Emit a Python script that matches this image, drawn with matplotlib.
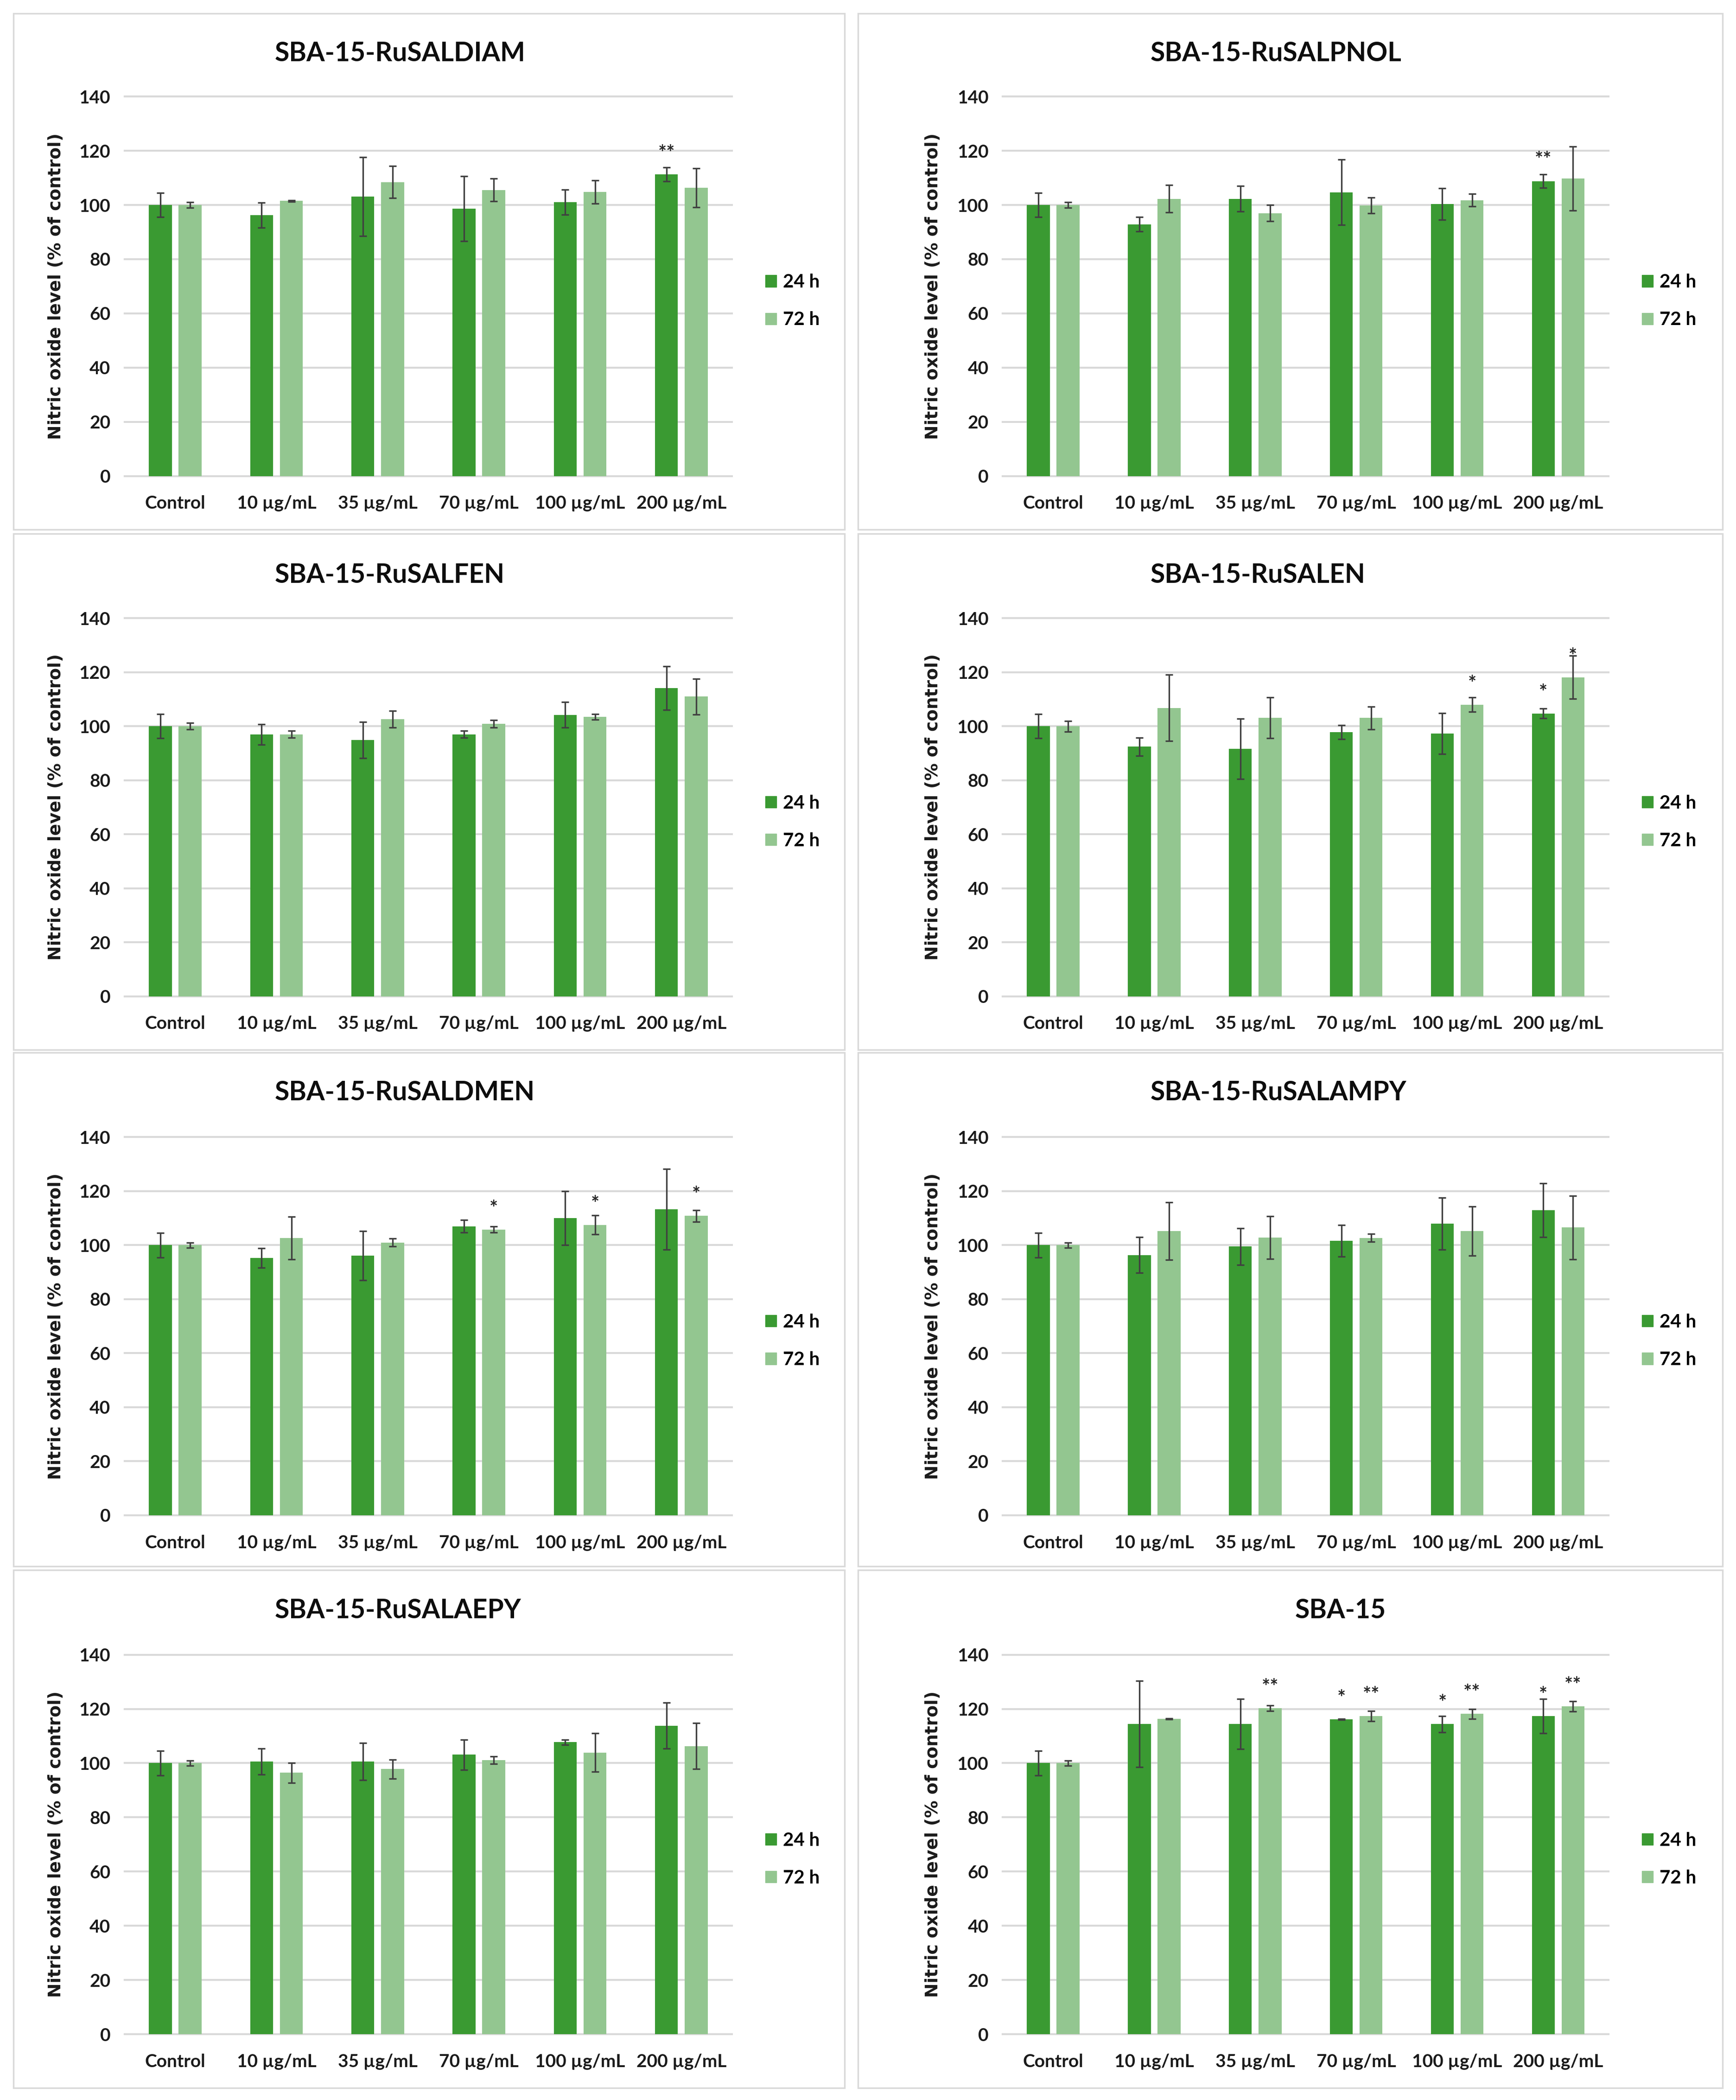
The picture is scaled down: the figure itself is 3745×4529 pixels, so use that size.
import matplotlib
matplotlib.use('Agg')
import matplotlib.pyplot as plt
from matplotlib.patches import Rectangle, Patch
import numpy as np

plt.rcParams['font.family'] = ['Lato', 'DejaVu Sans']

categories = ['Control', '10 µg/mL', '35 µg/mL', '70 µg/mL', '100 µg/mL', '200 µg/mL']
series_labels = ['24 h', '72 h']
titles = ['SBA-15-RuSALDIAM', 'SBA-15-RuSALPNOL', 'SBA-15-RuSALFEN', 'SBA-15-RuSALEN',
          'SBA-15-RuSALDMEN', 'SBA-15-RuSALAMPY', 'SBA-15-RuSALAEPY', 'SBA-15']
y_ticks = [0, 20, 40, 60, 80, 100, 120, 140]

# SBA-15-RuSALDIAM
saldiam_24 = [100, 96.2, 103.1, 98.6, 101.1, 111.3]
saldiam_24_err = [4.5, 4.6, 14.5, 12.0, 4.6, 2.6]
saldiam_72 = [100, 101.5, 108.4, 105.5, 104.8, 106.4]
saldiam_72_err = [1.0, 0.3, 5.9, 4.2, 4.3, 7.2]
saldiam_sig_24 = ['', '', '', '', '', '**']
saldiam_sig_72 = ['', '', '', '', '', '']

# SBA-15-RuSALPNOL
salpnol_24 = [100, 92.9, 102.3, 104.7, 100.3, 108.8]
salpnol_24_err = [4.5, 2.6, 4.7, 12.0, 5.8, 2.5]
salpnol_72 = [100, 102.3, 97.0, 99.9, 101.8, 109.7]
salpnol_72_err = [1.0, 5.0, 3.0, 2.9, 2.3, 11.8]
salpnol_sig_24 = ['', '', '', '', '', '**']
salpnol_sig_72 = ['', '', '', '', '', '']

# SBA-15-RuSALFEN
salfen_24 = [100, 97.0, 94.9, 97.0, 104.2, 114.1]
salfen_24_err = [4.5, 3.8, 6.7, 1.3, 4.7, 8.0]
salfen_72 = [100, 97.0, 102.6, 100.9, 103.5, 111.0]
salfen_72_err = [1.2, 1.3, 3.1, 1.4, 1.0, 6.6]
salfen_sig_24 = ['', '', '', '', '', '']
salfen_sig_72 = ['', '', '', '', '', '']

# SBA-15-RuSALEN
salen_24 = [100, 92.4, 91.6, 97.8, 97.3, 104.7]
salen_24_err = [4.5, 3.4, 11.1, 2.6, 7.5, 1.8]
salen_72 = [100, 106.8, 103.1, 103.1, 108.0, 118.1]
salen_72_err = [2.0, 12.3, 7.5, 4.2, 2.6, 8.0]
salen_sig_24 = ['', '', '', '', '', '*']
salen_sig_72 = ['', '', '', '', '*', '*']

# SBA-15-RuSALDMEN
saldmen_24 = [100, 95.2, 96.1, 107.0, 110.0, 113.3]
saldmen_24_err = [4.5, 3.6, 9.1, 2.3, 10.0, 14.9]
saldmen_72 = [100, 102.7, 101.0, 105.8, 107.5, 110.8]
saldmen_72_err = [1.0, 7.9, 1.5, 1.1, 3.5, 2.2]
saldmen_sig_24 = ['', '', '', '', '', '']
saldmen_sig_72 = ['', '', '', '*', '*', '*']

# SBA-15-RuSALAMPY
salampy_24 = [100, 96.3, 99.5, 101.6, 108.0, 112.9]
salampy_24_err = [4.5, 6.6, 6.8, 5.9, 9.6, 10.0]
salampy_72 = [100, 105.2, 102.8, 102.7, 105.2, 106.5]
salampy_72_err = [1.0, 10.7, 7.9, 1.5, 9.1, 11.8]
salampy_sig_24 = ['', '', '', '', '', '']
salampy_sig_72 = ['', '', '', '', '', '']

# SBA-15-RuSALAEPY
salaepy_24 = [100, 100.6, 100.6, 103.1, 107.7, 113.8]
salaepy_24_err = [4.5, 4.8, 6.8, 5.6, 1.0, 8.5]
salaepy_72 = [100, 96.4, 97.8, 101.1, 103.9, 106.3]
salaepy_72_err = [1.0, 3.7, 3.5, 1.3, 7.1, 8.5]
salaepy_sig_24 = ['', '', '', '', '', '']
salaepy_sig_72 = ['', '', '', '', '', '']

# SBA-15
sba15_24 = [100, 114.4, 114.4, 116.2, 114.4, 117.3]
sba15_24_err = [4.5, 15.9, 9.2, 0.2, 3.0, 6.3]
sba15_72 = [100, 116.3, 120.3, 117.4, 118.2, 121.0]
sba15_72_err = [1.0, 0.2, 1.0, 1.9, 1.8, 1.9]
sba15_sig_24 = ['', '', '', '*', '*', '*']
sba15_sig_72 = ['', '', '**', '**', '**', '**']

panels = [
    (saldiam_24, saldiam_24_err, saldiam_72, saldiam_72_err, saldiam_sig_24, saldiam_sig_72),
    (salpnol_24, salpnol_24_err, salpnol_72, salpnol_72_err, salpnol_sig_24, salpnol_sig_72),
    (salfen_24, salfen_24_err, salfen_72, salfen_72_err, salfen_sig_24, salfen_sig_72),
    (salen_24, salen_24_err, salen_72, salen_72_err, salen_sig_24, salen_sig_72),
    (saldmen_24, saldmen_24_err, saldmen_72, saldmen_72_err, saldmen_sig_24, saldmen_sig_72),
    (salampy_24, salampy_24_err, salampy_72, salampy_72_err, salampy_sig_24, salampy_sig_72),
    (salaepy_24, salaepy_24_err, salaepy_72, salaepy_72_err, salaepy_sig_24, salaepy_sig_72),
    (sba15_24, sba15_24_err, sba15_72, sba15_72_err, sba15_sig_24, sba15_sig_72),
]

DARK = '#3A9A32'
LIGHT = '#93C690'
GRID = '#D9D9D9'
ERR = '#404040'

W, H = 3745, 4529
S = W / 1295.0

# layout in reference-overview units
col_box = [(10, 630), (640, 1285)]
col_plot = [(93, 546), (748, 1200)]
col_title = [205, 858]
col_ylab = [42, 696]
row_box = [(10, 395), (398, 783), (785, 1168), (1171, 1557)]
row_plot = [(72, 355), (461, 743), (848, 1130), (1234, 1517)]
row_title = [40, 429, 815, 1201]


def fx(v):
    return v * S / W


def fy(v):
    return 1 - v * S / H


fig = plt.figure(figsize=(W / 100, H / 100), dpi=100)

x = np.arange(len(categories))
off = 0.147
bw = 0.227

for i, (v24, e24, v72, e72, s24, s72) in enumerate(panels):
    r, c = divmod(i, 2)
    bx0, bx1 = col_box[c]
    by0, by1 = row_box[r]
    fig.patches.append(Rectangle((fx(bx0), fy(by1)), fx(bx1) - fx(bx0), fy(by0) - fy(by1),
                                 transform=fig.transFigure, fill=False,
                                 edgecolor=GRID, linewidth=2.5))

    px0, px1 = col_plot[c]
    py_top, py_bot = row_plot[r]
    ax = fig.add_axes([fx(px0), fy(py_bot), fx(px1) - fx(px0), fy(py_top) - fy(py_bot)])

    ax.bar(x - off, v24, bw, color=DARK, zorder=3, label=series_labels[0])
    ax.bar(x + off, v72, bw, color=LIGHT, zorder=3, label=series_labels[1])
    ax.errorbar(x - off, v24, yerr=e24, fmt='none', ecolor=ERR, elinewidth=2.4,
                capsize=6, capthick=2.4, zorder=4)
    ax.errorbar(x + off, v72, yerr=e72, fmt='none', ecolor=ERR, elinewidth=2.4,
                capsize=6, capthick=2.4, zorder=4)

    for xi, val, sig in zip(x - off, v24, s24):
        if sig:
            ax.text(xi, val + 5.5, sig, ha='center', va='baseline', fontsize=31,
                    fontweight='bold', color='#262626', zorder=5)
    for xi, val, sig in zip(x + off, v72, s72):
        if sig:
            ax.text(xi, val + 5.5, sig, ha='center', va='baseline', fontsize=31,
                    fontweight='bold', color='#262626', zorder=5)

    ax.set_xlim(-0.5, len(categories) - 0.5)
    ax.set_ylim(0, 140)
    ax.set_yticks(y_ticks)
    ax.set_xticks(x)
    ax.set_xticklabels(categories)
    ax.yaxis.grid(True, color=GRID, linewidth=3, zorder=0)
    ax.set_axisbelow(True)
    for sp in ax.spines.values():
        sp.set_visible(False)
    ax.tick_params(axis='x', length=0, pad=30, labelsize=28, labelcolor='#1a1a1a')
    ax.tick_params(axis='y', length=0, pad=22, labelsize=28, labelcolor='#1a1a1a')
    for lab in ax.get_xticklabels() + ax.get_yticklabels():
        lab.set_fontweight('bold')
    for gl in ax.yaxis.get_gridlines():
        gl.set_clip_on(False)

    handles = [Patch(color=DARK, label=series_labels[0]),
               Patch(color=LIGHT, label=series_labels[1])]
    ax.legend(handles=handles, loc='center left', bbox_to_anchor=(1.055, 0.461),
              frameon=False, prop={'weight': 'bold', 'size': 29},
              handlelength=0.6, handleheight=0.6, handletextpad=0.35,
              labelspacing=1.1, borderpad=0, borderaxespad=0)

    if titles[i] == 'SBA-15':
        fig.text(fx(1000), fy(row_title[r]), titles[i], ha='center', va='center',
                 fontsize=41, fontweight='bold', color='#0d0d0d')
    else:
        fig.text(fx(col_title[c]), fy(row_title[r]), titles[i], ha='left', va='center',
                 fontsize=41, fontweight='bold', color='#0d0d0d')

    fig.text(fx(col_ylab[c]), fy((py_top + py_bot) / 2), 'Nitric oxide level (% of control)',
             rotation=90, ha='center', va='center', fontsize=27, fontweight='bold',
             family=['DejaVu Sans'], color='#1a1a1a')

fig.savefig('out.png', dpi=100, facecolor='white')
